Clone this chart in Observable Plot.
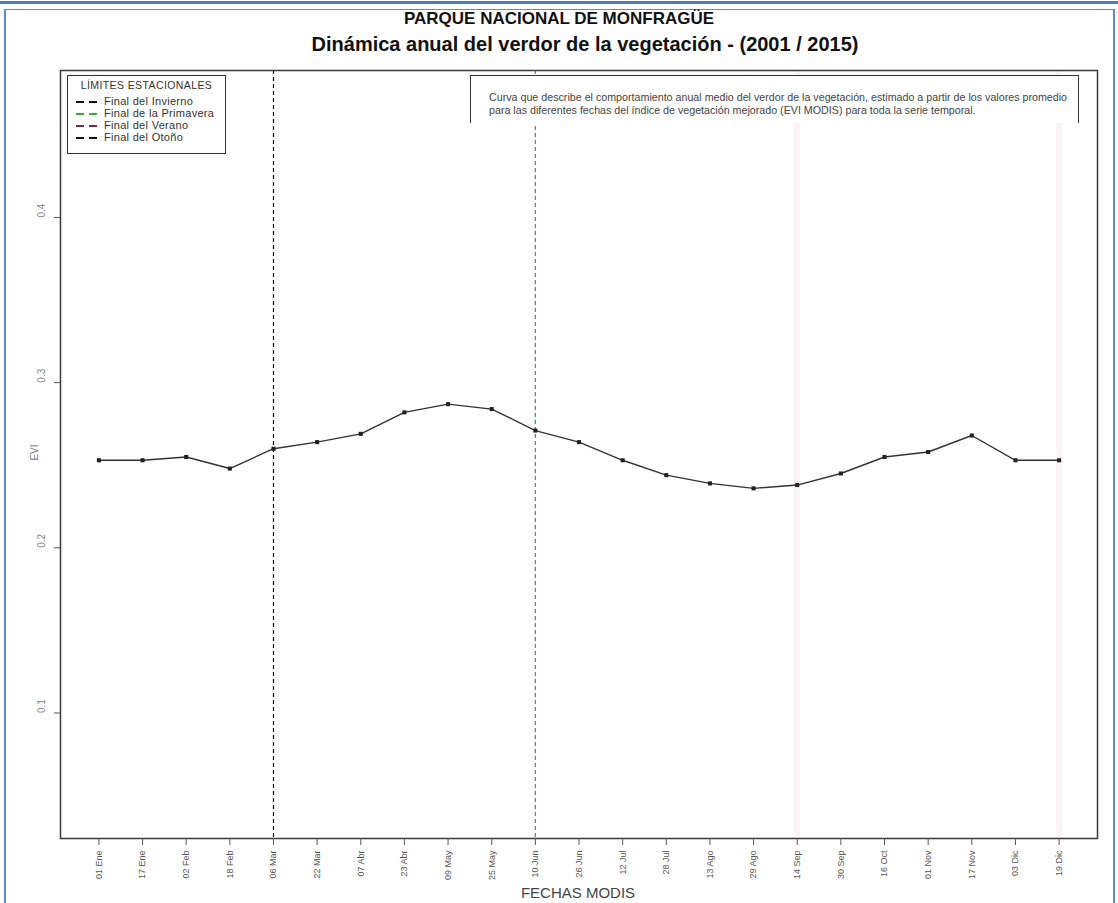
<!DOCTYPE html>
<html><head><meta charset="utf-8">
<script src="https://cdn.jsdelivr.net/npm/d3@7"></script>
<script src="https://cdn.jsdelivr.net/npm/@observablehq/plot@0.6"></script>
<style>
html,body{margin:0;padding:0;background:#fff;}
#page{position:relative;width:1118px;height:903px;overflow:hidden;font-family:"Liberation Sans",Arial,sans-serif;}
.abs{position:absolute;}
</style></head>
<body><div id="page"></div>
<script>
// ---- data ----
const dates = ["01 Ene","17 Ene","02 Feb","18 Feb","06 Mar","22 Mar","07 Abr","23 Abr","09 May","25 May","10 Jun","26 Jun","12 Jul","28 Jul","13 Ago","29 Ago","14 Sep","30 Sep","16 Oct","01 Nov","17 Nov","03 Dic","19 Dic"];
const evi = [0.253,0.253,0.255,0.248,0.260,0.264,0.269,0.282,0.287,0.284,0.271,0.264,0.253,0.244,0.239,0.236,0.238,0.245,0.255,0.258,0.268,0.253,0.253];
const yTicks = [0.1,0.2,0.3,0.4];
const seasonNames = ["Final del Invierno","Final de la Primavera","Final del Verano","Final del Otoño"];
const seasonIdx = [5,11,17,23];
const seasonColors = ["#111111","#3daa3d","#7a2a3a","#111111"];

const data = evi.map((v,k)=>({i:k+1, v}));
const idx = dates.map((d,k)=>k+1);
const page = document.getElementById("page");

// frame decoration (blue border) and titles
page.insertAdjacentHTML("beforeend", `
<div class="abs" style="left:0;top:1px;width:1118px;height:3px;background:#4a7dbf"></div>
<div class="abs" style="left:4px;top:9px;width:1107px;height:900px;border-top:1px solid #5a8ad0;border-left:2px solid #5a8ad0;border-right:2px solid #5a8ad0"></div>
<div class="abs" style="left:0;top:9px;width:1118px;text-align:center;font-weight:bold;font-size:17px;color:#111">PARQUE NACIONAL DE MONFRAGÜE</div>
<div class="abs" style="left:0;top:33px;width:1170px;text-align:center;font-weight:bold;font-size:20px;color:#111">Dinámica anual del verdor de la vegetación - (2001 / 2015)</div>
`);

const chart = Plot.plot({
  width:1118, height:843,
  marginLeft:60, marginRight:21, marginTop:10, marginBottom:65,
  x:{domain:[0.12,23.88]},
  y:{domain:[0.024,0.489]},
  style:{fontFamily:"Liberation Sans, Arial, sans-serif", background:"transparent", overflow:"visible"},
  marks:[
    Plot.ruleX([seasonIdx[2], seasonIdx[3]], {stroke:"#f9f4f5", strokeWidth:6}),
    Plot.ruleX([seasonIdx[0]], {stroke:seasonColors[0], strokeWidth:1.2, strokeDasharray:"4,3"}),
    Plot.ruleX([seasonIdx[1]], {stroke:seasonColors[1], strokeWidth:1.3, strokeDasharray:"4,3"}),
    Plot.frame({stroke:"#3a3a3a", strokeWidth:1.5}),
    Plot.axisX({ticks:idx, tickFormat:i=>dates[i-1], tickRotate:-90, tickSize:7, tickPadding:5, fontSize:9, color:"#555", label:null}),
    Plot.axisY({ticks:yTicks, tickSize:6, tickFormat:()=>"", color:"#555", label:null}),
    Plot.text(yTicks, {y:d=>d, text:d=>d.toFixed(1), frameAnchor:"left", dx:-19, rotate:-90, fontSize:10, fill:"#888"}),
    Plot.line(data, {x:"i", y:"v", stroke:"#333", strokeWidth:1.4}),
    Plot.dot(data, {x:"i", y:"v", symbol:"square", r:2.3, fill:"#222"})
  ]
});
chart.style.position = "absolute";
chart.style.left = "0px";
chart.style.top = "60px";
page.appendChild(chart);

// axis titles
page.insertAdjacentHTML("beforeend", `
<div class="abs" style="left:378px;top:884px;width:400px;text-align:center;font-size:15px;color:#444">FECHAS MODIS</div>
<div class="abs" style="left:14px;top:447px;width:40px;text-align:center;font-size:10px;color:#777;transform:rotate(-90deg)">EVI</div>
`);

// legend box
let leg = `<div class="abs" style="left:67px;top:75px;width:157px;height:77px;border:1px solid #333;background:#fff;font-size:11px;color:#333">
<div style="position:absolute;left:0;top:3px;width:157px;text-align:center;letter-spacing:0.4px;font-size:10.5px">LÍMITES ESTACIONALES</div>`;
seasonNames.forEach((n,k)=>{
  const t = 19 + k*12;
  leg += `<div style="position:absolute;left:8px;top:${t+6}px;width:8px;height:0;border-top:2px solid ${seasonColors[k]}"></div>
  <div style="position:absolute;left:21px;top:${t+6}px;width:8px;height:0;border-top:2px solid ${seasonColors[k]}"></div>
  <div style="position:absolute;left:36px;top:${t}px;white-space:nowrap;letter-spacing:0.3px">${n}</div>`;
});
leg += `</div>`;
page.insertAdjacentHTML("beforeend", leg);

// description box
page.insertAdjacentHTML("beforeend", `
<div class="abs" style="left:470px;top:75px;width:607px;height:47px;border-top:1.5px solid #333;border-left:1.5px solid #333;border-right:1.5px solid #333;background:#fff;font-size:10.7px;color:#444;line-height:13px">
<div style="position:absolute;left:18px;top:15px;white-space:nowrap">Curva que describe el comportamiento anual medio del verdor de la vegetación, estimado a partir de los valores promedio</div>
<div style="position:absolute;left:18px;top:28px;white-space:nowrap">para las diferentes fechas del índice de vegetación mejorado (EVI MODIS) para toda la serie temporal.</div>
</div>`);
</script>
</body></html>
